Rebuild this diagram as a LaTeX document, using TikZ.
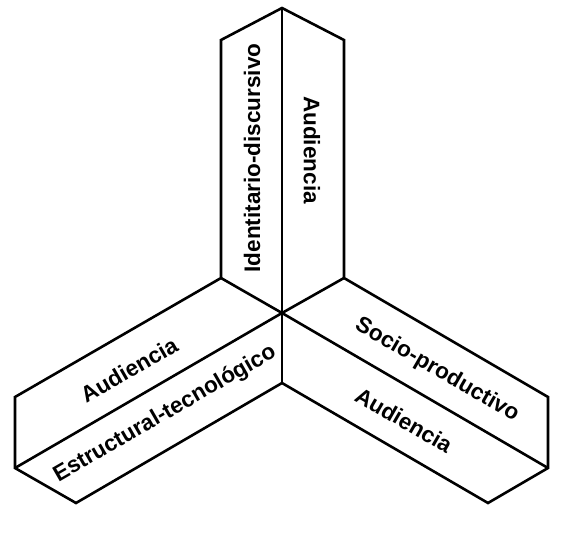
\documentclass[tikz,border=0pt]{standalone}
\usepackage{fontspec}
\setmainfont{Liberation Sans}
\usepackage{tikz}

\begin{document}
\begin{tikzpicture}[x=1pt,y=-1pt,line width=2.6pt,line join=miter,
  face label/.style={font=\bfseries\fontsize{22.5}{27}\selectfont,inner sep=0pt}]
  \useasboundingbox (0,0) rectangle (567,535);

  % corners of the three arms
  \coordinate (C)  at (282,313);
  \coordinate (T)  at (282,8);
  \coordinate (TL) at (221,40);
  \coordinate (TR) at (344,40);
  \coordinate (A)  at (221,278);
  \coordinate (R0) at (344,278);
  \coordinate (L1) at (15,397);
  \coordinate (L2) at (15,468);
  \coordinate (L3) at (76,503);
  \coordinate (B)  at (282,383);
  \coordinate (R1) at (548,397);
  \coordinate (R2) at (548,468);
  \coordinate (R3) at (488,503);

  % outline
  \draw (A) -- (TL) -- (T) -- (TR) -- (R0) -- (R1) -- (R2) -- (R3) -- (B)
    -- (L3) -- (L2) -- (L1) -- cycle;

  % inner edges
  \path[draw]
    (C) edge (T)
        edge (A)
        edge (R0)
        edge (L2)
        edge (R2)
        edge (B);

  \node[face label, rotate=90]  (id)   at (252,158) {Identitario-discursivo};
  \node[face label, rotate=-90] (aud1) at (312,150) {Audiencia};
  \node[face label, rotate=30]  (aud2) at (129,370) {Audiencia};
  \node[face label, rotate=30]  (est)  at (165,414) {Estructural-tecnológico};
  \node[face label, rotate=-30] (soc)  at (437,370) {Socio-productivo};
  \node[face label, rotate=-30] (aud3) at (404,420) {Audiencia};
\end{tikzpicture}
\end{document}
